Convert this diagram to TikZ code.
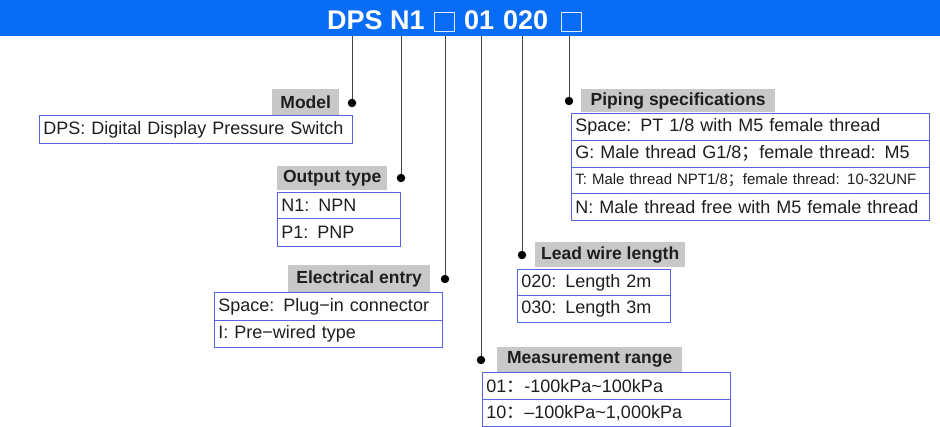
\documentclass[tikz,border=0pt]{standalone}
\usepackage{fontspec}
\setmainfont{Liberation Sans}
\newfontfamily\cjk{Noto Sans CJK SC}
\definecolor{barblue}{RGB}{8,108,245}
\definecolor{labgray}{RGB}{200,200,200}
\definecolor{boxblue}{RGB}{85,100,225}
\definecolor{linegray}{RGB}{70,70,70}
\definecolor{ink}{RGB}{30,30,30}
\begin{document}
\begin{tikzpicture}[x=1pt,y=-1pt,
  lab/.style={fill=labgray, anchor=north west, inner sep=0pt, text=ink,
    font=\bfseries\fontsize{17.5}{20}\selectfont},
  row/.style={draw=boxblue, line width=0.8pt, anchor=north west, inner xsep=4pt,
    inner ysep=0pt, align=left, text=ink, font=\fontsize{18}{21}\selectfont},
  dot/.style={circle, fill=black, inner sep=0pt, minimum size=8.5pt},
  lead/.style={draw=linegray, line width=0.9pt},
  ttl/.style={text=white, font=\bfseries\fontsize{27}{30}\selectfont, anchor=base west, inner sep=0pt},
  tbox/.style={draw=white!85!barblue, line width=1pt, minimum width=20pt, minimum height=19pt,
    inner sep=0pt, anchor=north west}]
\useasboundingbox (0,0) rectangle (940,427);
\fill[barblue] (0,0) rectangle (940,36);
% title
\node[ttl] (tdps) at (327,30) {DPS};
\node[ttl] (tn1) at (390,30) {N1};
\node[tbox] (tb1) at (434,12) {};
\node[ttl] (t01) at (464,30) {01};
\node[ttl] (t020) at (503,30) {020};
\node[tbox] (tb2) at (561,12) {};
% leader tops
\coordinate (c1) at (352,36);
\coordinate (c2) at (401,36);
\coordinate (c3) at (445,36);
\coordinate (c4) at (481,36);
\coordinate (c5) at (522,36);
\coordinate (c6) at (569,36);
% dots
\node[dot] (d1) at (352,103) {};
\node[dot] (d2) at (401,178) {};
\node[dot] (d3) at (445,279) {};
\node[dot] (d4) at (481,360) {};
\node[dot] (d5) at (522,255) {};
\node[dot] (d6) at (569,101) {};
\draw[lead] (c1) -- (d1);
\draw[lead] (c2) -- (d2);
\draw[lead] (c3) -- (d3);
\draw[lead] (c4) -- (d4);
\draw[lead] (c5) -- (d5);
\draw[lead] (c6) -- (d6);
% Model
\node[lab, minimum width=67pt, minimum height=26pt] (lmodel) at (272,89) {Model};
\node[row, text width=305pt, minimum height=28pt] (rmodel) at (39,115) {DPS: Digital Display Pressure Switch};
% Output type
\node[lab, minimum width=110pt, minimum height=24pt] (lout) at (277,166) {Output type};
\node[row, text width=115pt, minimum height=26pt] (rout1) at (277,192) {N1: NPN};
\node[row, text width=115pt, minimum height=28pt] (rout2) at (277,218) {P1: PNP};
% Electrical entry
\node[lab, minimum width=142pt, minimum height=27pt] (lel) at (288,265) {Electrical entry};
\node[row, text width=220pt, minimum height=28pt] (rel1) at (214,292) {Space: Plug−in connector};
\node[row, text width=220pt, minimum height=27pt] (rel2) at (214,320) {I: Pre−wired type};
% Measurement range
\node[lab, minimum width=185pt, minimum height=25pt] (lmr) at (497,347) {Measurement range};
\node[row, text width=240pt, minimum height=27pt] (rmr1) at (482,372) {01{\cjk ：}-100kPa\textasciitilde100kPa};
\node[row, text width=240pt, minimum height=27pt] (rmr2) at (482,399) {10{\cjk ：}–100kPa\textasciitilde1,000kPa};
% Lead wire length
\node[lab, minimum width=150pt, minimum height=25pt] (llw) at (535,242) {Lead wire length};
\node[row, text width=145pt, minimum height=26pt] (rlw1) at (517,269) {020: Length 2m};
\node[row, text width=145pt, minimum height=27pt] (rlw2) at (517,295) {030: Length 3m};
% Piping specifications
\node[lab, minimum width=194pt, minimum height=23pt] (lps) at (581,89) {Piping specifications};
\node[row, text width=350pt, minimum height=27pt] (rps1) at (571,113) {Space: PT 1/8 with M5 female thread};
\node[row, text width=350pt, minimum height=27pt] (rps2) at (571,140) {G: Male thread G1/8{\cjk ；}female thread: M5};
\node[row, text width=350pt, minimum height=26pt, font=\fontsize{15}{17}\selectfont] (rps3) at (571,167) {T: Male thread NPT1/8{\cjk ；}female thread: 10-32UNF};
\node[row, text width=350pt, minimum height=27pt] (rps4) at (571,193) {N: Male thread free with M5 female thread};
\end{tikzpicture}
\end{document}
